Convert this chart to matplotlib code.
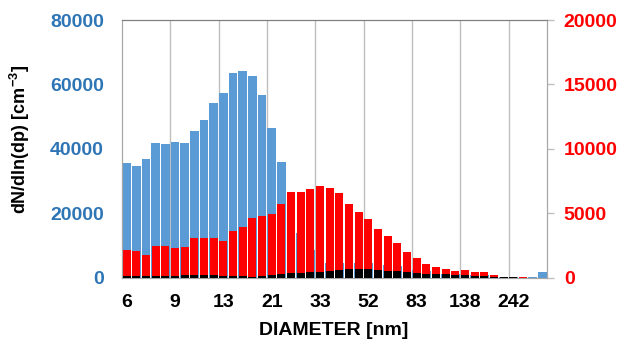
import matplotlib
matplotlib.use('Agg')
import matplotlib.pyplot as plt
import numpy as np

plt.rcParams['font.family'] = ['Liberation Sans', 'DejaVu Sans']
plt.rcParams['mathtext.fontset'] = 'custom'
plt.rcParams['mathtext.bf'] = 'Liberation Sans:bold'
plt.rcParams['mathtext.rm'] = 'Liberation Sans:bold'

# 44 size bins, labelled every 5th bin
tick_labels = ['6', '9', '13', '21', '33', '52', '83', '138', '242']

# blue series, left axis
blue_vals = [35700, 34700, 37000, 41900, 41600, 42200, 41900, 45700, 48900, 54100,
             57500, 63600, 64300, 62700, 56700, 46500, 35800, 22000, 14000, 8500,
             6000, 4500, 4500, 4500, 4400, 4400, 4300, 4000, 3500, 3000,
             2500, 2000, 1500, 1200, 1000, 900, 800, 700, 500, 300,
             200, 100, 300, 1600]

# red series, right axis
red_vals = [2140, 2040, 1770, 2450, 2450, 2320, 2400, 3100, 3100, 3050,
            2860, 3640, 3950, 4630, 4760, 4940, 5740, 6680, 6680, 6860,
            7120, 6940, 6600, 5720, 5120, 4530, 3750, 3230, 2710, 2010,
            1490, 1050, 840, 640, 530, 580, 450, 400, 190, 60,
            30, 10, 0, 0]

# black series, right axis
black_vals = [120, 110, 100, 120, 120, 110, 200, 200, 170, 180,
              150, 110, 90, 80, 100, 190, 250, 330, 370, 430,
              450, 530, 580, 640, 690, 690, 580, 530, 500, 400,
              330, 270, 270, 270, 190, 190, 120, 100, 60, 40,
              20, 0, 0, 0]

x = np.arange(len(blue_vals))

fig = plt.figure(figsize=(6.19, 3.41), dpi=100)
fig.subplots_adjust(left=0.197, right=0.884, bottom=0.186, top=0.941)
ax = fig.add_subplot(111)
ax2 = ax.twinx()

ax.set_zorder(1)
ax2.set_zorder(2)
ax2.patch.set_visible(False)

for g in range(5, len(x), 5):
    ax.axvline(g - 0.5, color='#BFBFBF', linewidth=1.0, zorder=0)

ax.bar(x, blue_vals, width=0.9, color='#5B9BD5', zorder=2)
ax2.bar(x, red_vals, width=0.82, color='#FF0000', zorder=2)
ax2.bar(x, black_vals, width=0.82, color='#000000', zorder=3)

ax.set_xlim(-0.5, len(x) - 0.5)
ax.set_ylim(0, 80000)
ax2.set_ylim(0, 20000)

ax.set_yticks(range(0, 80001, 20000))
ax2.set_yticks(range(0, 20001, 5000))
ax.set_xticks(x[::5])
ax.set_xticklabels(tick_labels)

ax.tick_params(axis='y', length=0, pad=13, labelsize=14, labelcolor='#2E75B6')
ax.tick_params(axis='x', length=0, pad=12, labelsize=14)
ax2.tick_params(axis='y', length=5, width=1, color='#BFBFBF', pad=7,
                labelsize=14, labelcolor='#FF0000')
for lab in ax.get_yticklabels() + ax.get_xticklabels() + ax2.get_yticklabels():
    lab.set_fontweight('bold')

for a in (ax, ax2):
    a.spines['top'].set_color('#7F7F7F')
    a.spines['left'].set_color('#A6A6A6')
    a.spines['right'].set_color('#A6A6A6')
    a.spines['bottom'].set_color('#A6A6A6')

ax.set_ylabel(r'dN/dln(dp) [cm$^{\mathbf{-3}}$]', fontsize=13, fontweight='bold')
ax.yaxis.set_label_coords(-0.212, 0.538)
ax.set_xlabel('DIAMETER [nm]', fontsize=14, fontweight='bold')
ax.xaxis.set_label_coords(0.497, -0.172)

fig.savefig('out.png', dpi=100)
